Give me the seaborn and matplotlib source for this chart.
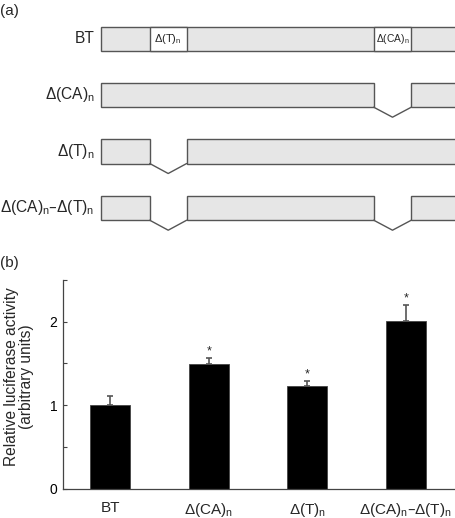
import numpy as np
import pandas as pd
import matplotlib.pyplot as plt
import matplotlib.patches as mpatches
import seaborn as sns

# Constructs and luciferase activity
constructs = ['BT', 'Δ(CA)$_\\mathregular{n}$', 'Δ(T)$_\\mathregular{n}$',
              'Δ(CA)$_\\mathregular{n}$–Δ(T)$_\\mathregular{n}$']
activity = [1.0, 1.49, 1.23, 2.01]
errors = [0.11, 0.08, 0.06, 0.19]
significant = [False, True, True, True]

# Schematic: region boundaries (diagram units) and which repeats each construct lacks
seq_start, seq_end = 101, 456
t_region = (149.7, 186.7)
ca_region = (373.7, 411.3)
deleted_t = [False, False, True, True]
deleted_ca = [False, True, False, True]

sns.set_theme(style='ticks')
plt.rcParams['font.family'] = ['Liberation Sans', 'DejaVu Sans']
plt.rcParams['mathtext.default'] = 'regular'

fig = plt.figure(figsize=(4.56, 5.18), dpi=100)

# ---- panel (a): construct diagram ----
ax_a = fig.add_axes([0, 1 - 250 / 518, 1, 250 / 518])
ax_a.set_xlim(0, 456)
ax_a.set_ylim(250, 0)
ax_a.axis('off')

row_top = [26.7, 82.7, 139.0, 195.7]
row_h = 24.5
dip = 10
fill = '#e6e6e6'
edge = '#555555'

for i, name in enumerate(constructs):
    top = row_top[i]
    bot = top + row_h
    gaps = []
    if deleted_t[i]:
        gaps.append(t_region)
    if deleted_ca[i]:
        gaps.append(ca_region)
    pieces = []
    x0 = seq_start
    for g in gaps:
        pieces.append((x0, g[0]))
        x0 = g[1]
    pieces.append((x0, seq_end))
    for a, b in pieces:
        ax_a.add_patch(mpatches.Rectangle((a, top), b - a, row_h, facecolor=fill,
                                          edgecolor=edge, lw=1.0, clip_on=False))
    for g in gaps:
        ax_a.plot([g[0], (g[0] + g[1]) / 2, g[1]], [bot, bot + dip, bot],
                  color=edge, lw=1.0, clip_on=False)
    if i == 0:
        for g, lab, fs in [(t_region, 'Δ(T)$_\\mathregular{n}$', 8),
                           (ca_region, 'Δ(CA)$_\\mathregular{n}$', 7.4)]:
            ax_a.add_patch(mpatches.Rectangle((g[0], top), g[1] - g[0], row_h,
                                              facecolor='white', edgecolor=edge, lw=1.0))
            ax_a.text((g[0] + g[1]) / 2, top + row_h / 2, lab, fontsize=fs,
                      ha='center', va='center')
    ax_a.text(94.5, top + row_h / 2, name, fontsize=11.2, ha='right', va='center')

fig.text(0.0, 1 - 11 / 518, '(a)', fontsize=11, ha='left', va='center')
fig.text(0.0, 1 - 263 / 518, '(b)', fontsize=11, ha='left', va='center')

# ---- panel (b): bar chart ----
ax = fig.add_axes([63 / 456, (518 - 488.7) / 518, 393 / 456, 208.7 / 518])
df = pd.DataFrame({'construct': constructs, 'activity': activity})
sns.barplot(data=df, x='construct', y='activity', color='black', width=0.41,
            saturation=1, ax=ax)
for p in ax.patches:
    p.set_edgecolor('#444444')
    p.set_linewidth(0.6)

x = np.arange(len(constructs))
ax.errorbar(x, activity, yerr=[np.zeros(len(errors)), errors], fmt='none',
            ecolor='#555555', elinewidth=1.2, capsize=2.4, capthick=1.2)
for xi, v, e, s in zip(x, activity, errors, significant):
    if s:
        ax.text(xi, v + e + 0.005, '*', ha='center', va='bottom', fontsize=9)

ax.set_xlim(-0.48, 3.51)
ax.set_ylim(0, 2.5)
ax.set_yticks([0, 0.5, 1, 1.5, 2, 2.5])
ax.set_yticklabels(['0', '', '1', '', '2', ''])
ax.tick_params(axis='y', direction='in', length=3, width=0.8, colors='#444444',
               labelcolor='black', labelsize=10, pad=4)
ax.tick_params(axis='x', length=0, labelsize=11, pad=9)
ax.set_xlabel('')
ax.set_ylabel('Relative luciferase activity\n(arbitrary units)', fontsize=11.2,
              linespacing=1.0)
ax.yaxis.set_label_coords(-0.074, 0.535)
sns.despine(ax=ax)
for s in ['left', 'bottom']:
    ax.spines[s].set_color('#444444')
    ax.spines[s].set_linewidth(0.9)

fig.savefig('out.png', dpi=100)
